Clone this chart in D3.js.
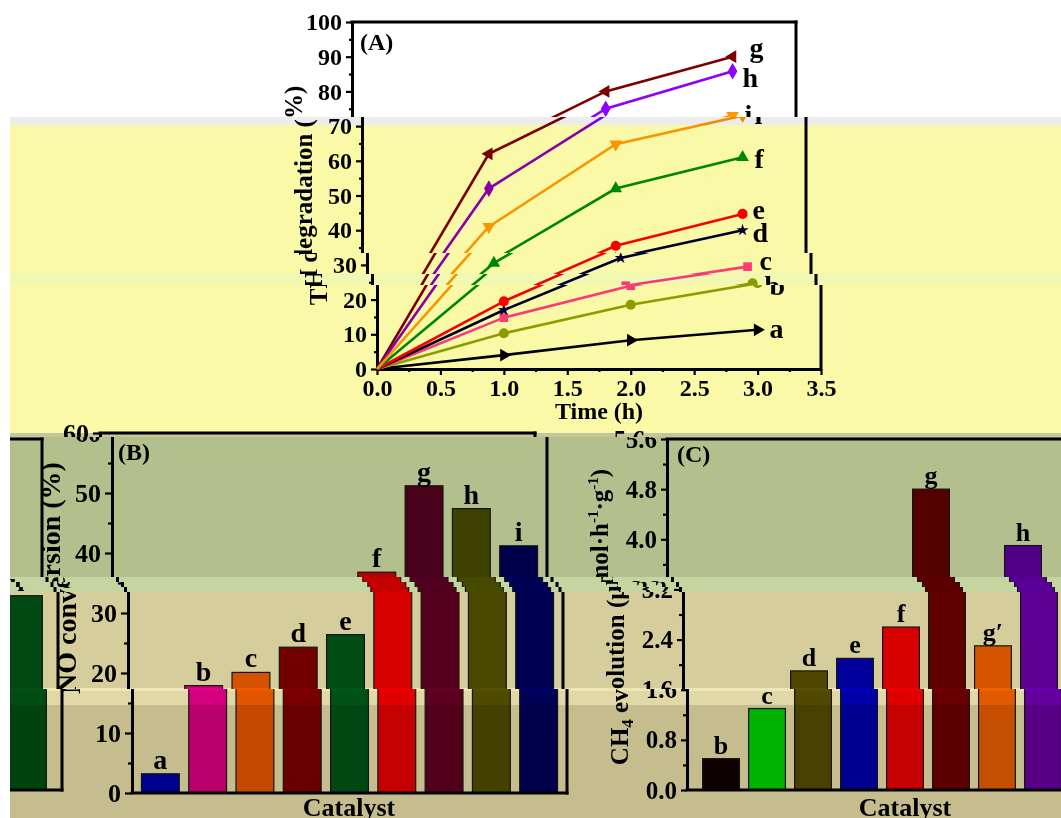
<!DOCTYPE html>
<html>
<head>
<meta charset="utf-8">
<script src="https://cdn.jsdelivr.net/npm/d3@7"></script>
<style>
html, body { margin: 0; padding: 0; background: #fff; }
svg { display: block; }
</style>
</head>
<body>
<svg id="fig" width="1061" height="818"></svg>
<script>
// ---- (A) TH degradation (%) vs time (h)
const hours = [0, 1, 2, 3];
const degA = [0, 4.0, 8.3, 11.3];
const degB = [0, 10.3, 18.5, 24.7];
const degC = [0, 14.8, 24.0, 29.5];
const degD = [0, 17.0, 32.0, 40.0];
const degE = [0, 19.5, 35.5, 44.7];
const degF = [0, 30.5, 52.0, 61.0];
const degG = [0, 62.0, 80.0, 90.0];
const degH = [0, 52.0, 75.0, 85.8];
const degI = [0, 41.0, 64.8, 73.0];
const timeTicks = [0, 0.5, 1.0, 1.5, 2.0, 2.5, 3.0, 3.5];
const degTicks = [0, 10, 20, 30, 40, 50, 60, 70, 80, 90, 100];

// ---- (B) NO conversion (%)
const catB = ["a", "b", "c", "d", "e", "f", "g", "h", "i"];
const noConv = [3.2, 17.9, 20.1, 24.3, 26.4, 36.8, 51.2, 47.4, 41.2];
const noTicks = [0, 10, 20, 30, 40, 50, 60];

// ---- (C) CH4 evolution (umol h-1 g-1)
const catC = ["b", "c", "d", "e", "f", "g", "g\u2032", "h", "i"];
const ch4 = [0.5, 1.3, 1.9, 2.1, 2.6, 4.8, 2.3, 3.9, 3.1];
const ch4Ticks = [0, 0.8, 1.6, 2.4, 3.2, 4.0, 4.8, 5.6];

const FONT = "'Liberation Serif', 'Times New Roman', serif";

// Styles des courbes du panneau A (couleur, marqueur, decalage de l'etiquette)
const lineStyles = {
    a: { color: "#000000", shape: "tri", rot: 90, lx: 12, ly: 8 },
    b: { color: "#8fa000", shape: "circle", lx: 12, ly: 12 },
    c: { color: "#ff3cb4", shape: "square", lx: 12, ly: 3 },
    d: { color: "#000044", shape: "star", lx: 10, ly: 12 },
    e: { color: "#ff0000", shape: "circle", lx: 10, ly: 5 },
    f: { color: "#008a00", shape: "tri", rot: 0, lx: 12, ly: 11 },
    g: { color: "#7d0000", shape: "tri", rot: -90, lx: 17, ly: 0 },
    h: { color: "#8b00ff", shape: "diamond", lx: 10, ly: 16 },
    i: { color: "#ff9900", shape: "tri", rot: 180, lx: 12, ly: 8 }
};
const colorsB = ["#0000ff", "#f000c0", "#ff6400", "#880000", "#006020", "#ff0000", "#680030", "#585800", "#000085"];
const colorsC = ["#100000", "#00f000", "#5c5600", "#0000ff", "#ff0000", "#740000", "#ff6a00", "#7000f0", "#005a1e"];

const seriesA = [
    { name: "a", values: degA }, { name: "b", values: degB }, { name: "c", values: degC },
    { name: "d", values: degD }, { name: "e", values: degE }, { name: "f", values: degF },
    { name: "g", values: degG }, { name: "h", values: degH }, { name: "i", values: degI }
].map(function(s) {
    return { name: s.name, points: hours.map(function(t, k) { return { t: t, v: s.values[k] }; }) };
});

// Bandes de l'image decalees horizontalement (glitch de la figure d'origine)
const bands = [
    { y0: 0, y1: 117, dx: 0 },
    { y0: 117, y1: 253, dx: 10 },
    { y0: 253, y1: 274, dx: 15 },
    { y0: 274, y1: 285, dx: 20 },
    { y0: 285, y1: 437, dx: 25 },
    { y0: 437, y1: 577, dx: 37 },
    { y0: 577, y1: 582, dx: 42 },
    { y0: 582, y1: 587, dx: 47 },
    { y0: 587, y1: 592, dx: 50 },
    { y0: 592, y1: 689, dx: 53 },
    { y0: 689, y1: 818, dx: 57 }
];
const tints = [
    { y0: 117, y1: 125, c: "#ececec" },
    { y0: 125, y1: 273, c: "#f9f9a7" },
    { y0: 273, y1: 284, c: "#f1f8b1" },
    { y0: 284, y1: 433, c: "#f9f9a7" },
    { y0: 433, y1: 437, c: "#c3c79b" },
    { y0: 437, y1: 577, c: "#b3c08e" },
    { y0: 577, y1: 592, c: "#c5d5a1" },
    { y0: 592, y1: 688, c: "#d6cd9d" },
    { y0: 688, y1: 691, c: "#efe6b8" },
    { y0: 691, y1: 705, c: "#e1d8a8" },
    { y0: 705, y1: 818, c: "#c5bd8e" }
];

const W = 1061;
const svg = d3.select("#fig");

function styleAxis(g, fontSize) {
    g.attr("font-family", FONT).attr("font-size", fontSize).attr("font-weight", "bold");
    g.select(".domain").attr("stroke", "#000").attr("stroke-width", 3);
    g.selectAll(".tick line").attr("stroke", "#000").attr("stroke-width", 2.2);
    g.selectAll(".tick text").attr("fill", "#000");
}

function minorValues(major) {
    const out = [];
    for (let k = 0; k < major.length - 1; k++) out.push((major[k] + major[k + 1]) / 2);
    return out;
}

function frameLine(g, x1, y1, x2, y2) {
    g.append("line")
        .attr("x1", x1).attr("y1", y1).attr("x2", x2).attr("y2", y2)
        .attr("stroke", "#000").attr("stroke-width", 3).attr("stroke-linecap", "square");
}

function markerPath(style) {
    if (style.shape === "circle") return d3.symbol(d3.symbolCircle, 80)();
    if (style.shape === "square") return d3.symbol(d3.symbolSquare, 75)();
    if (style.shape === "diamond") return d3.symbol(d3.symbolDiamond, 80)();
    if (style.shape === "star") return d3.symbol(d3.symbolStar, 45)();
    return d3.symbol(d3.symbolTriangle, 70)();
}

function drawPanelA(g) {
    const x = d3.scaleLinear().domain([0, 3.5]).range([352, 796]);
    const y = d3.scaleLinear().domain([0, 100]).range([369, 22]);

    frameLine(g, x(0), y(100), x(3.5), y(100));
    frameLine(g, x(3.5), y(100), x(3.5), y(0));

    const xMinor = g.append("g").attr("transform", "translate(0," + y(0) + ")")
        .call(d3.axisBottom(x).tickValues(minorValues(timeTicks)).tickSize(3).tickFormat(""));
    xMinor.select(".domain").remove();
    xMinor.selectAll(".tick line").attr("stroke", "#000").attr("stroke-width", 2.2);
    xMinor.selectAll(".tick text").remove();
    const yMinor = g.append("g").attr("transform", "translate(" + x(0) + ",0)")
        .call(d3.axisLeft(y).tickValues(minorValues(degTicks)).tickSize(3).tickFormat(""));
    yMinor.select(".domain").remove();
    yMinor.selectAll(".tick line").attr("stroke", "#000").attr("stroke-width", 2.2);
    yMinor.selectAll(".tick text").remove();

    g.append("g").attr("transform", "translate(0," + y(0) + ")")
        .call(d3.axisBottom(x).tickValues(timeTicks).tickFormat(d3.format(".1f"))
            .tickSize(6).tickSizeOuter(0).tickPadding(4))
        .call(styleAxis, 24);
    g.append("g").attr("transform", "translate(" + x(0) + ",0)")
        .call(d3.axisLeft(y).tickValues(degTicks).tickSize(6).tickSizeOuter(0).tickPadding(4))
        .call(styleAxis, 24);

    const line = d3.line().x(function(d) { return x(d.t); }).y(function(d) { return y(d.v); });

    const series = g.selectAll(".serieA").data(seriesA).enter().append("g").attr("class", "serieA");
    series.append("path")
        .attr("d", function(s) { return line(s.points); })
        .attr("fill", "none")
        .attr("stroke", function(s) { return lineStyles[s.name].color; })
        .attr("stroke-width", 2.6);

    series.each(function(s) {
        const st = lineStyles[s.name];
        d3.select(this).selectAll(".mk")
            .data(s.points.filter(function(p) { return p.t > 0; }))
            .enter().append("path")
            .attr("class", "mk")
            .attr("d", markerPath(st))
            .attr("fill", st.color)
            .attr("transform", function(p) {
                return "translate(" + x(p.t) + "," + y(p.v) + ") rotate(" + (st.rot || 0) + ")";
            });
        const last = s.points[s.points.length - 1];
        d3.select(this).append("text")
            .attr("x", x(last.t) + st.lx)
            .attr("y", y(last.v) + st.ly)
            .attr("font-family", FONT).attr("font-weight", "bold").attr("font-size", 28)
            .attr("fill", "#000")
            .text(s.name);
    });

    g.append("text")
        .attr("x", x(0) + 8).attr("y", 50)
        .attr("font-family", FONT).attr("font-weight", "bold").attr("font-size", 24)
        .text("(A)");
    g.append("text")
        .attr("x", (x(0) + x(3.5)) / 2).attr("y", 419)
        .attr("text-anchor", "middle")
        .attr("font-family", FONT).attr("font-weight", "bold").attr("font-size", 24)
        .text("Time (h)");
    g.append("text")
        .attr("transform", "translate(302," + (y(0) + y(100)) / 2 + ") rotate(-90)")
        .attr("text-anchor", "middle")
        .attr("font-family", FONT).attr("font-weight", "bold").attr("font-size", 25)
        .text("TH degradation (%)");
}

function drawBars(g, cats, values, colors, x, y, labelSize) {
    const rows = cats.map(function(c, k) { return { cat: c, value: values[k], color: colors[k] }; });
    g.selectAll(".bar").data(rows).enter().append("rect")
        .attr("class", "bar")
        .attr("x", function(d) { return x(d.cat); })
        .attr("y", function(d) { return y(d.value); })
        .attr("width", x.bandwidth())
        .attr("height", function(d) { return y(0) - y(d.value); })
        .attr("fill", function(d) { return d.color; })
        .attr("stroke", "#1a1a1a").attr("stroke-width", 1.2);
    g.selectAll(".barLabel").data(rows).enter().append("text")
        .attr("class", "barLabel")
        .attr("x", function(d) { return x(d.cat) + x.bandwidth() / 2; })
        .attr("y", function(d) { return y(d.value) - 5; })
        .attr("text-anchor", "middle")
        .attr("font-family", FONT).attr("font-weight", "bold").attr("font-size", labelSize)
        .attr("fill", "#000")
        .text(function(d) { return d.cat; });
}

function drawPanelB(g) {
    const x = d3.scaleBand().domain(catB).range([75, 510]).paddingInner(0.2).paddingOuter(0.2);
    const y = d3.scaleLinear().domain([0, 60]).range([793, 433]);

    drawBars(g, catB, noConv, colorsB, x, y, 28);

    frameLine(g, 75, y(60), 510, y(60));
    frameLine(g, 510, y(60), 510, y(0));
    frameLine(g, 75, y(0), 510, y(0));

    const yMinor = g.append("g").attr("transform", "translate(75,0)")
        .call(d3.axisLeft(y).tickValues(minorValues(noTicks)).tickSize(4).tickFormat(""));
    yMinor.select(".domain").remove();
    yMinor.selectAll(".tick line").attr("stroke", "#000").attr("stroke-width", 2.2);
    yMinor.selectAll(".tick text").remove();
    g.append("g").attr("transform", "translate(75,0)")
        .call(d3.axisLeft(y).tickValues(noTicks).tickSize(7).tickSizeOuter(0).tickPadding(4))
        .call(styleAxis, 26);

    g.append("text")
        .attr("x", 81).attr("y", 460)
        .attr("font-family", FONT).attr("font-weight", "bold").attr("font-size", 24)
        .text("(B)");
    g.append("text")
        .attr("x", 292).attr("y", 816)
        .attr("text-anchor", "middle")
        .attr("font-family", FONT).attr("font-weight", "bold").attr("font-size", 26)
        .text("Catalyst");
    g.append("text")
        .attr("transform", "translate(23,578) rotate(-90)")
        .attr("text-anchor", "middle")
        .attr("font-family", FONT).attr("font-weight", "bold").attr("font-size", 28)
        .text("NO conversion (%)");
}

function drawPanelC(g) {
    const x = d3.scaleBand().domain(catC).range([630, 1066]).paddingInner(0.2).paddingOuter(0.34);
    const y = d3.scaleLinear().domain([0, 5.6]).range([790, 439]);

    drawBars(g, catC, ch4, colorsC, x, y, 26);

    frameLine(g, 630, y(5.6), 1066, y(5.6));
    frameLine(g, 1066, y(5.6), 1066, y(0));
    frameLine(g, 630, y(0), 1066, y(0));

    const yMinor = g.append("g").attr("transform", "translate(630,0)")
        .call(d3.axisLeft(y).tickValues(minorValues(ch4Ticks)).tickSize(4).tickFormat(""));
    yMinor.select(".domain").remove();
    yMinor.selectAll(".tick line").attr("stroke", "#000").attr("stroke-width", 2.2);
    yMinor.selectAll(".tick text").remove();
    g.append("g").attr("transform", "translate(630,0)")
        .call(d3.axisLeft(y).tickValues(ch4Ticks).tickFormat(d3.format(".1f"))
            .tickSize(6).tickSizeOuter(0).tickPadding(4))
        .call(styleAxis, 25);

    g.append("text")
        .attr("x", 640).attr("y", 462)
        .attr("font-family", FONT).attr("font-weight", "bold").attr("font-size", 24)
        .text("(C)");
    g.append("text")
        .attr("x", 848).attr("y", 816)
        .attr("text-anchor", "middle")
        .attr("font-family", FONT).attr("font-weight", "bold").attr("font-size", 26)
        .text("Catalyst");

    // Titre vertical avec indices et exposants
    const t = g.append("text")
        .attr("transform", "translate(571,617) rotate(-90)")
        .attr("text-anchor", "middle")
        .attr("font-family", FONT).attr("font-weight", "bold").attr("font-size", 25);
    t.append("tspan").text("CH");
    t.append("tspan").attr("font-size", 17).attr("dy", 5).text("4");
    t.append("tspan").attr("dy", -5).text(" evolution (\u03bcmol\u00b7h");
    t.append("tspan").attr("font-size", 15).attr("dy", -10).text("-1");
    t.append("tspan").attr("dy", 10).text("\u00b7g");
    t.append("tspan").attr("font-size", 15).attr("dy", -10).text("-1");
    t.append("tspan").attr("dy", 10).text(")");
}

function drawFigure(g) {
    drawPanelA(g.append("g"));
    drawPanelB(g.append("g"));
    drawPanelC(g.append("g"));
}

// Enleve les textes d'une copie qui tombent hors de sa bande visible.
function pruneTexts(g, band) {
    g.selectAll("text").each(function() {
        const r = this.getBoundingClientRect();
        const visible = r.bottom > band.y0 && r.top < band.y1 && r.right > 10 && r.left < W;
        if (!visible) d3.select(this).remove();
    });
}

// Chaque bande est une copie decoupee et decalee de la figure.
const defs = svg.append("defs");
bands.forEach(function(b, k) {
    defs.append("clipPath").attr("id", "band" + k)
        .append("rect").attr("x", 0).attr("y", b.y0).attr("width", W).attr("height", b.y1 - b.y0);
    const holder = svg.append("g").attr("clip-path", "url(#band" + k + ")");
    holder.append("rect").attr("x", 0).attr("y", b.y0).attr("width", W).attr("height", b.y1 - b.y0).attr("fill", "#fff");
    const main = holder.append("g").attr("transform", "translate(" + b.dx + ",0)");
    drawFigure(main);
    pruneTexts(main, b);
    if (b.dx > 0) {
        const wrap = holder.append("g").attr("transform", "translate(" + (b.dx - W) + ",0)");
        drawFigure(wrap);
        pruneTexts(wrap, b);
    }
});

// Teintes des bandes (multiplication)
svg.selectAll(".tint").data(tints).enter().append("rect")
    .attr("class", "tint")
    .attr("x", 0).attr("y", function(d) { return d.y0; })
    .attr("width", W).attr("height", function(d) { return d.y1 - d.y0; })
    .attr("fill", function(d) { return d.c; })
    .style("mix-blend-mode", "multiply");

svg.append("rect").attr("x", 0).attr("y", 0).attr("width", 10).attr("height", 818).attr("fill", "#fff");
</script>
</body>
</html>
